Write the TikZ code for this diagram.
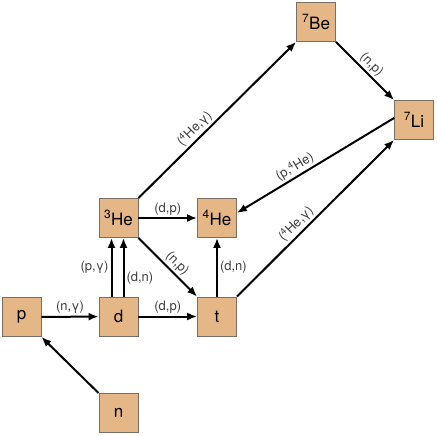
\documentclass[tikz,border=0pt]{standalone}
\usepackage{fontspec}
\setmainfont{TeX Gyre Heros}
\usetikzlibrary{arrows.meta}
\definecolor{boxfill}{RGB}{229,182,134}
\definecolor{boxline}{RGB}{120,110,100}
\definecolor{lbl}{RGB}{60,60,60}
\begin{document}
\begin{tikzpicture}[x=1pt,y=-1pt,
  nuc/.style={draw=boxline,line width=0.8pt,fill=boxfill,minimum width=39pt,minimum height=39pt,inner sep=0pt,font=\fontsize{17}{17}\selectfont},
  rx/.style={-{Latex[length=10pt,width=8pt]},line width=2pt},
  lb/.style={font=\fontsize{13}{13}\selectfont,text=lbl,inner sep=2pt}]
\useasboundingbox (0,0) rectangle (436,436);
\node[nuc] (p) at (21.5,317) {p};
\node[nuc] (d) at (118.5,316.5) {d};
\node[nuc] (n) at (118.5,413) {n};
\node[nuc] (t) at (217,316.5) {t};
\node[nuc] (He3) at (118.5,218) {\textsuperscript{3}He};
\node[nuc] (He4) at (217,218) {\textsuperscript{4}He};
\node[nuc] (Be7) at (316,22) {\textsuperscript{7}Be};
\node[nuc] (Li7) at (414,120) {\textsuperscript{7}Li};
\draw[rx] (p) -- node[lb,above]{(n,γ)} (d);
\draw[rx] (n.north west) -- (p.south east);
\draw[rx] (d) -- node[lb,above]{(d,p)} (t);
\draw[rx] ([xshift=-7pt]d.north) -- node[lb,left]{(p,γ)} ([xshift=-7pt]He3.south);
\draw[rx] ([xshift=5pt]d.north) -- node[lb,right,pos=0.32]{(d,n)} ([xshift=5pt]He3.south);
\draw[rx] (He3) -- node[lb,above]{(d,p)} (He4);
\draw[rx] (He3.south east) -- node[lb,above,sloped,pos=0.55]{(n,p)} (t.north west);
\draw[rx] (t) -- node[lb,right]{(d,n)} (He4);
\draw[rx] (He3.north east) -- node[lb,above,sloped,pos=0.4]{(\textsuperscript{4}He,γ)} (Be7.south west);
\draw[rx] (Be7.south east) -- node[lb,above,sloped]{(n,p)} (Li7.north west);
\draw[rx] ([yshift=2pt]Li7.west) -- node[lb,above,sloped,pos=0.6]{(p,\textsuperscript{4}He)} ([yshift=5pt]He4.east);
\draw[rx] (t.north east) -- node[lb,above,sloped,pos=0.42]{(\textsuperscript{4}He,γ)} (Li7.south west);
\end{tikzpicture}
\end{document}
